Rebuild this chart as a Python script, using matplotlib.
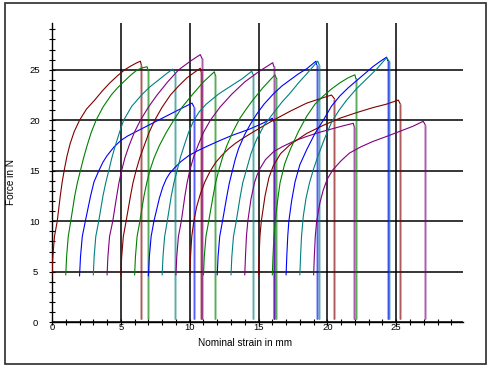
import matplotlib
matplotlib.use("Agg")
import matplotlib.pyplot as plt
from matplotlib.patches import Rectangle
from matplotlib.ticker import MultipleLocator

plt.rcParams['font.family'] = ['Liberation Sans', 'DejaVu Sans']

MAROON, GREEN, BLUE, TEAL, PURPLE = '#800000', '#008000', '#0000ff', '#008080', '#800080'

# Each specimen: rising force curve (strain in mm, force in N) and strain at break
c00_x = [0.0, 0.06, 0.18, 0.38, 0.6, 0.73, 0.88, 1.08, 1.32, 1.62, 2.0, 2.5, 3.1, 3.65, 4.2, 4.75, 5.28, 5.7, 6.1, 6.42]
c00_y = [4.7, 6.5, 8.5, 10.0, 12.5, 13.8, 15.0, 16.4, 17.7, 18.9, 20.0, 21.1, 22.0, 22.9, 23.7, 24.4, 25.0, 25.35, 25.65, 25.85]
c01_x = [1.0, 1.06, 1.18, 1.36, 1.65, 1.84, 2.06, 2.3, 2.55, 2.85, 3.2, 3.7, 4.3, 4.75, 5.2, 5.7, 6.2, 6.6, 6.9]
c01_y = [4.7, 6.5, 8.5, 10.0, 12.5, 13.8, 15.0, 16.3, 17.5, 18.8, 20.0, 21.3, 22.5, 23.2, 23.8, 24.45, 25.0, 25.2, 25.3]
c02_x = [2.0, 2.07, 2.2, 2.42, 2.8, 3.05, 3.4, 3.7, 4.0, 4.5, 5.0, 5.5, 6.0, 7.0, 8.0, 9.0, 10.17]
c02_y = [4.6, 6.5, 8.5, 10.0, 12.5, 13.9, 15.0, 15.85, 16.5, 17.35, 18.0, 18.45, 18.8, 19.5, 20.2, 20.9, 21.7]
c03_x = [3.0, 3.06, 3.18, 3.39, 3.7, 3.9, 4.12, 4.35, 4.6, 4.9, 5.2, 5.8, 6.5, 7.1, 7.75, 8.3, 8.77]
c03_y = [4.7, 6.5, 8.5, 10.0, 12.5, 13.8, 15.0, 16.3, 17.5, 18.8, 20.0, 21.4, 22.5, 23.3, 24.0, 24.6, 25.07]
c04_x = [4.0, 4.06, 4.18, 4.41, 4.7, 4.86, 5.05, 5.3, 5.6, 5.98, 6.42, 7.0, 7.63, 8.4, 9.2, 10.1, 10.77]
c04_y = [4.7, 6.5, 8.5, 10.0, 12.5, 13.8, 15.0, 16.3, 17.5, 18.8, 20.0, 21.3, 22.5, 23.8, 25.0, 25.9, 26.5]
c05_x = [5.0, 5.06, 5.18, 5.38, 5.7, 5.88, 6.1, 6.38, 6.7, 7.05, 7.46, 8.0, 8.6, 9.2, 9.8, 10.3, 10.77]
c05_y = [4.7, 6.5, 8.5, 10.0, 12.5, 13.8, 15.0, 16.3, 17.5, 18.8, 20.0, 21.3, 22.5, 23.4, 24.2, 24.7, 25.15]
c06_x = [6.0, 6.06, 6.18, 6.38, 6.68, 6.88, 7.1, 7.42, 7.8, 8.3, 8.84, 9.45, 10.17, 11.0, 11.79]
c06_y = [4.7, 6.5, 8.5, 10.0, 12.5, 13.8, 15.0, 16.3, 17.5, 18.8, 20.0, 21.3, 22.5, 23.8, 24.8]
c07_x = [7.0, 7.07, 7.2, 7.4, 7.8, 8.05, 8.3, 8.55, 8.84, 9.35, 9.93, 10.6, 11.38, 12.2, 13.07, 14.3, 15.3, 16.0]
c07_y = [4.6, 6.5, 8.5, 10.0, 12.3, 13.4, 14.2, 14.75, 15.2, 15.9, 16.5, 17.0, 17.5, 18.0, 18.5, 19.1, 19.7, 20.2]
c08_x = [8.0, 8.06, 8.18, 8.37, 8.66, 8.85, 9.08, 9.32, 9.6, 9.92, 10.3, 10.7, 11.2, 12.1, 13.0, 13.8, 14.5]
c08_y = [4.7, 6.5, 8.5, 10.0, 12.5, 13.8, 15.0, 16.3, 17.5, 18.8, 20.0, 20.85, 21.6, 22.6, 23.4, 24.1, 24.85]
c09_x = [9.0, 9.06, 9.18, 9.39, 9.65, 9.81, 10.0, 10.27, 10.6, 11.0, 11.5, 12.2, 13.07, 14.0, 15.0, 16.03]
c09_y = [4.7, 6.5, 8.5, 10.0, 12.5, 13.8, 15.0, 16.3, 17.5, 18.8, 20.0, 21.3, 22.6, 23.8, 24.8, 25.7]
c10_x = [10.0, 10.06, 10.15, 10.3, 10.5, 10.75, 11.1, 11.5, 11.9, 12.35, 12.8, 13.3, 13.9, 14.5, 15.3, 16.07, 17.3, 18.5, 19.5, 20.3]
c10_y = [4.7, 6.5, 8.5, 10.0, 11.4, 12.6, 13.9, 15.0, 15.85, 16.55, 17.15, 17.7, 18.25, 18.75, 19.4, 20.0, 20.9, 21.7, 22.15, 22.5]
c11_x = [11.0, 11.06, 11.18, 11.38, 11.7, 11.88, 12.1, 12.38, 12.7, 13.15, 13.65, 14.1, 14.53, 15.3, 16.19]
c11_y = [4.7, 6.5, 8.5, 10.0, 12.5, 13.8, 15.0, 16.3, 17.5, 18.9, 20.2, 21.1, 21.9, 23.2, 24.5]
c12_x = [12.0, 12.06, 12.18, 12.38, 12.7, 12.88, 13.1, 13.3, 13.55, 14.0, 14.4, 14.86, 15.4, 16.07, 16.7, 17.3, 17.9, 18.5, 19.17]
c12_y = [4.7, 6.5, 8.5, 10.0, 12.5, 13.8, 15.0, 16.1, 17.2, 18.6, 19.6, 20.6, 21.6, 22.6, 23.4, 24.0, 24.6, 25.1, 25.85]
c13_x = [13.0, 13.06, 13.18, 13.38, 13.65, 13.85, 14.1, 14.45, 14.86, 15.4, 16.07, 16.7, 17.3, 17.9, 18.5, 19.3]
c13_y = [4.7, 6.5, 8.5, 10.0, 12.3, 13.8, 15.0, 16.7, 18.1, 19.5, 20.7, 21.8, 22.7, 23.7, 24.6, 25.85]
c14_x = [14.0, 14.05, 14.12, 14.22, 14.45, 14.7, 14.9, 15.1, 15.5, 16.1, 16.75, 17.6, 18.5, 19.4, 20.2, 21.0, 21.88]
c14_y = [4.7, 6.5, 8.5, 10.0, 12.2, 13.8, 14.6, 15.2, 16.1, 16.9, 17.4, 17.95, 18.4, 18.8, 19.1, 19.4, 19.7]
c15_x = [15.0, 15.04, 15.1, 15.2, 15.47, 15.75, 16.07, 16.6, 17.3, 18.5, 19.7, 20.9, 22.1, 23.3, 24.3, 25.15]
c15_y = [4.7, 6.5, 8.5, 10.0, 12.5, 14.3, 15.5, 16.7, 17.6, 18.7, 19.5, 20.2, 20.75, 21.25, 21.6, 22.0]
c16_x = [16.0, 16.05, 16.12, 16.22, 16.4, 16.56, 16.9, 17.3, 17.9, 18.5, 19.1, 19.7, 20.3, 20.9, 21.5, 22.0]
c16_y = [4.7, 6.5, 8.5, 10.2, 12.2, 13.8, 15.7, 17.1, 18.9, 20.4, 21.6, 22.4, 23.1, 23.7, 24.2, 24.5]
c17_x = [17.0, 17.05, 17.12, 17.2, 17.4, 17.65, 18.0, 18.5, 19.1, 19.7, 20.3, 20.9, 21.5, 22.1, 22.7, 23.3, 23.8, 24.3]
c17_y = [4.7, 6.5, 8.5, 10.0, 12.0, 13.9, 15.6, 17.1, 18.7, 20.0, 21.4, 22.4, 23.2, 23.9, 24.6, 25.3, 25.8, 26.25]
c18_x = [18.0, 18.05, 18.12, 18.25, 18.45, 18.7, 19.0, 19.3, 19.8, 20.3, 20.85, 21.4, 22.1, 22.85, 23.6, 24.3]
c18_y = [4.7, 6.5, 8.5, 10.5, 12.3, 13.8, 15.2, 16.4, 18.2, 19.8, 21.0, 22.0, 23.1, 24.1, 25.1, 26.2]
c19_x = [19.0, 19.05, 19.12, 19.22, 19.45, 19.7, 20.0, 20.4, 21.0, 21.6, 22.4, 23.3, 24.3, 25.25, 26.2, 26.96]
c19_y = [4.7, 6.5, 8.5, 10.0, 11.8, 13.1, 14.2, 15.1, 16.0, 16.75, 17.35, 17.9, 18.4, 18.9, 19.4, 19.9]

break_x = [6.48, 6.98, 10.3, 8.92, 10.88, 10.82, 11.86, 16.12, 14.62, 16.1,
           20.5, 16.3, 19.22, 19.4, 21.95, 25.28, 22.06, 24.38, 24.48, 27.1]
break_y_end = 0.3

curves_x = [c00_x, c01_x, c02_x, c03_x, c04_x, c05_x, c06_x, c07_x, c08_x, c09_x,
            c10_x, c11_x, c12_x, c13_x, c14_x, c15_x, c16_x, c17_x, c18_x, c19_x]
curves_y = [c00_y, c01_y, c02_y, c03_y, c04_y, c05_y, c06_y, c07_y, c08_y, c09_y,
            c10_y, c11_y, c12_y, c13_y, c14_y, c15_y, c16_y, c17_y, c18_y, c19_y]
palette = [MAROON, GREEN, BLUE, TEAL, PURPLE]

fig = plt.figure(figsize=(4.91, 3.69), dpi=100)
ax = fig.add_axes([52/491, 1-322.3/369, (463.3-52)/491, (322.3-23.3)/369])

for i, (xs, ys, bx) in enumerate(zip(curves_x, curves_y, break_x)):
    col = palette[i % 5]
    ax.plot(xs + [bx], ys + [ys[-1] - 0.35], color=col, lw=0.8, zorder=3,
            solid_joinstyle='round')
    ax.plot([bx, bx], [ys[-1] - 0.35, break_y_end], color=col, lw=2.2, alpha=0.3,
            zorder=2, solid_capstyle='butt')
    ax.plot([bx, bx], [ys[-1] - 0.35, break_y_end], color=col, lw=0.7, alpha=0.5, zorder=3)

ax.set_xlim(0, 29.87)
ax.set_ylim(0, 29.6)
ax.xaxis.set_major_locator(MultipleLocator(5))
ax.yaxis.set_major_locator(MultipleLocator(5))
ax.xaxis.set_minor_locator(MultipleLocator(1))
ax.yaxis.set_minor_locator(MultipleLocator(1))
ax.grid(True, which='major', color='black', lw=1.1)
ax.set_axisbelow(True)
for s in ['top', 'right']:
    ax.spines[s].set_visible(False)
for s in ['left', 'bottom']:
    ax.spines[s].set_linewidth(1.0)
    ax.spines[s].set_color('black')
ax.tick_params(which='both', direction='inout', length=4.5, width=0.8, color='black')
ax.tick_params(axis='x', which='both', pad=-1.6, labelsize=6.8)
ax.tick_params(axis='y', which='both', pad=10, labelsize=6.8)
ax.set_xticks([0, 5, 10, 15, 20, 25])
ax.set_xticklabels(['0', '5', '10', '15', '20', '25'])
ax.set_yticks([0, 5, 10, 15, 20, 25])
ax.set_yticklabels(['0', '5', '10', '15', '20', '25'])
for lab in ax.get_yticklabels():
    lab.set_horizontalalignment('center')

fig.text(245/491, 1-343/369, 'Nominal strain in mm', ha='center', va='center', fontsize=7.2)
fig.text(11.5/491, 1-182/369, 'Force in N', ha='center', va='center', rotation=90, fontsize=7.2)

fig.patches.append(Rectangle((5.3/491, 1-363.7/369), (485.7-5.3)/491, (363.7-2.7)/369,
                             transform=fig.transFigure, fill=False, edgecolor='#2a2a2a', lw=1.2))

fig.savefig('out.png', dpi=100)
